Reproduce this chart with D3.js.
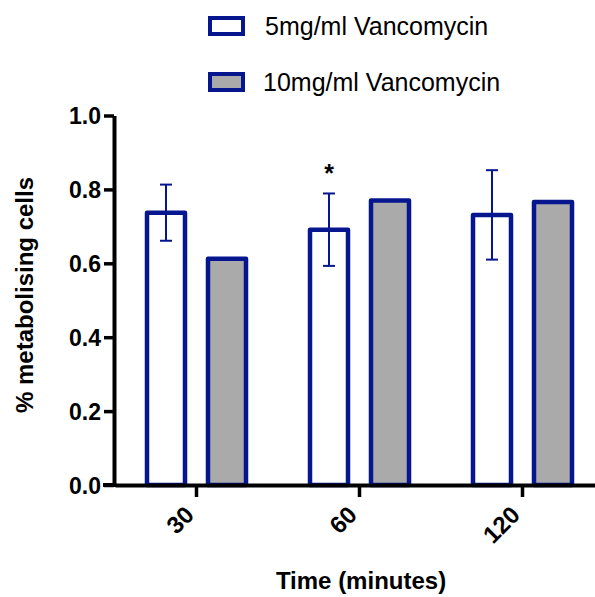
<!DOCTYPE html>
<html>
<head>
<meta charset="utf-8">
<script src="https://cdn.jsdelivr.net/npm/d3@7"></script>
<style>
  body { margin: 0; background: #fff; }
  svg text { font-family: "Liberation Sans", Arial, sans-serif; }
</style>
</head>
<body>
<div id="chart"></div>
<script>
// chart data
var times = ["30", "60", "120"];
var seriesNames = ["5mg/ml Vancomycin", "10mg/ml Vancomycin"];
var lowDose = [0.737, 0.691, 0.731];
var lowDoseErr = [0.076, 0.098, 0.121];
var highDose = [0.612, 0.770, 0.766];
var yTicks = [0, 0.2, 0.4, 0.6, 0.8, 1.0];
var starred = ["60"];

var svgWidth = 595;
var svgHeight = 597;

var blue = "#06168f";
var grey = "#aaaaaa";

var svg = d3.select("#chart")
  .append("svg")
  .attr("width", svgWidth)
  .attr("height", svgHeight);

// scales
var x0 = d3.scaleBand()
  .domain(times)
  .range([115, 604]);

var x1 = d3.scaleBand()
  .domain(seriesNames)
  .range([-49.5, 49.5])
  .paddingInner(0.377);

var y = d3.scaleLinear()
  .domain([0, 1])
  .range([485, 115.5]);

// rows for the bars
var rows = [];
times.forEach(function(t, i) {
  rows.push({ time: t, series: seriesNames[0], value: lowDose[i], err: lowDoseErr[i] });
  rows.push({ time: t, series: seriesNames[1], value: highDose[i], err: null });
});

function barX(d) {
  return x0(d.time) + x0.bandwidth() / 2 + x1(d.series);
}

// bars
svg.append("g")
  .selectAll("rect")
  .data(rows)
  .enter()
  .append("rect")
  .attr("x", barX)
  .attr("y", d => y(d.value))
  .attr("width", x1.bandwidth())
  .attr("height", d => y(0) - y(d.value))
  .attr("fill", d => d.series === seriesNames[0] ? "#ffffff" : grey)
  .attr("stroke", blue)
  .attr("stroke-width", 4.5)
  .attr("stroke-linejoin", "round");

// error bars (5mg only)
var errRows = rows.filter(d => d.err !== null);
var errGroup = svg.append("g")
  .attr("stroke", blue)
  .attr("stroke-width", 2);

errGroup.selectAll("line.stem")
  .data(errRows)
  .enter()
  .append("line")
  .attr("class", "stem")
  .attr("x1", d => barX(d) + x1.bandwidth() / 2)
  .attr("x2", d => barX(d) + x1.bandwidth() / 2)
  .attr("y1", d => y(d.value + d.err))
  .attr("y2", d => y(d.value - d.err));

errGroup.selectAll("line.capTop")
  .data(errRows)
  .enter()
  .append("line")
  .attr("x1", d => barX(d) + x1.bandwidth() / 2 - 6)
  .attr("x2", d => barX(d) + x1.bandwidth() / 2 + 6)
  .attr("y1", d => y(d.value + d.err))
  .attr("y2", d => y(d.value + d.err));

errGroup.selectAll("line.capBottom")
  .data(errRows)
  .enter()
  .append("line")
  .attr("x1", d => barX(d) + x1.bandwidth() / 2 - 6)
  .attr("x2", d => barX(d) + x1.bandwidth() / 2 + 6)
  .attr("y1", d => y(d.value - d.err))
  .attr("y2", d => y(d.value - d.err));

// significance star
svg.append("g")
  .selectAll("text")
  .data(errRows.filter(d => starred.indexOf(d.time) >= 0))
  .enter()
  .append("text")
  .attr("x", d => barX(d) + x1.bandwidth() / 2)
  .attr("y", d => y(d.value + d.err) - 11)
  .attr("text-anchor", "middle")
  .attr("font-size", 25)
  .attr("font-weight", "bold")
  .text("*");

// y axis
var yAxis = svg.append("g")
  .attr("transform", "translate(114, 0)")
  .call(d3.axisLeft(y).tickValues(yTicks).tickFormat(d3.format(".1f")).tickSize(10).tickSizeOuter(0));

// x axis
var xAxis = svg.append("g")
  .attr("transform", "translate(0, 485)")
  .call(d3.axisBottom(x0).tickSize(12).tickSizeOuter(0));

[yAxis, xAxis].forEach(function(ax) {
  ax.select(".domain").attr("stroke", "#000").attr("stroke-width", 4);
  ax.selectAll(".tick line").attr("stroke", "#000").attr("stroke-width", 3.5);
  ax.selectAll(".tick text")
    .attr("fill", "#000")
    .attr("font-size", 23)
    .attr("font-weight", "bold")
    .style("font-family", "Liberation Sans, Arial, sans-serif");
});

yAxis.selectAll(".tick text").attr("x", -13).attr("dy", "0.36em");

// extend x axis line left to make the 0.0 tick
xAxis.append("line")
  .attr("x1", 103)
  .attr("x2", 116)
  .attr("y1", 0)
  .attr("y2", 0)
  .attr("stroke", "#000")
  .attr("stroke-width", 4);

xAxis.selectAll(".tick text")
  .attr("text-anchor", "end")
  .attr("transform", "rotate(-45)")
  .attr("font-size", 24)
  .attr("x", -23)
  .attr("y", 13)
  .attr("dy", "0.35em");

// axis titles
svg.append("text")
  .attr("transform", "translate(33, 295) rotate(-90)")
  .attr("text-anchor", "middle")
  .attr("font-size", 24)
  .attr("font-weight", "bold")
  .text("% metabolising cells");

svg.append("text")
  .attr("x", 361)
  .attr("y", 589)
  .attr("text-anchor", "middle")
  .attr("font-size", 24)
  .attr("font-weight", "bold")
  .text("Time (minutes)");

// legend
var legend = svg.append("g")
  .selectAll("g")
  .data(seriesNames)
  .enter()
  .append("g")
  .attr("transform", (d, i) => `translate(0, ${i * 56})`);

legend.append("rect")
  .attr("x", 210)
  .attr("y", 18)
  .attr("width", 33)
  .attr("height", 16)
  .attr("fill", (d, i) => i === 0 ? "#ffffff" : grey)
  .attr("stroke", blue)
  .attr("stroke-width", 4);

legend.append("text")
  .attr("x", (d, i) => i === 0 ? 265 : 263)
  .attr("y", 35)
  .attr("font-size", 25)
  .text(d => d);
</script>
</body>
</html>
